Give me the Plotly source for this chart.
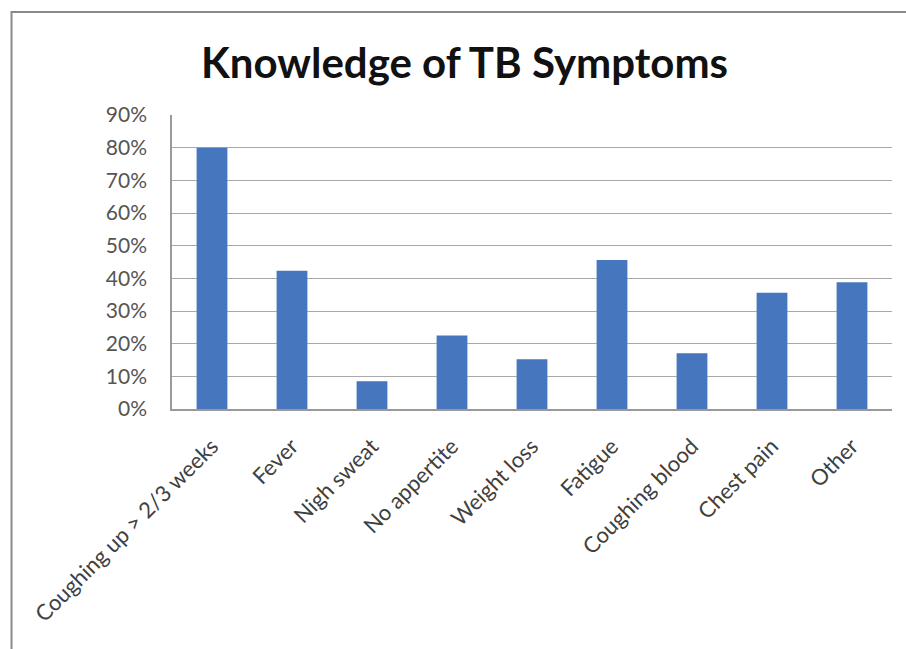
import plotly.graph_objects as go

# Share of respondents naming each symptom
symptoms = [
    "Coughing up > 2/3 weeks",
    "Fever",
    "Nigh sweat",
    "No appertite",
    "Weight loss",
    "Fatigue",
    "Coughing blood",
    "Chest pain",
    "Other",
]
share = [0.80, 0.423, 0.085, 0.225, 0.152, 0.456, 0.171, 0.356, 0.388]
y_ticks = [0, 0.1, 0.2, 0.3, 0.4, 0.5, 0.6, 0.7, 0.8, 0.9]
y_tick_labels = ["0%", "10%", "20%", "30%", "40%", "50%", "60%", "70%", "80%", "90%"]

W, H = 906, 649
ML, MR, MT, MB = 172, 14, 115, 240

fig = go.Figure(
    go.Bar(
        x=symptoms,
        y=share,
        marker=dict(color="#4677BE", line=dict(width=0)),
        hoverinfo="x+y",
    )
)

plot_h = H - MT - MB
plot_w = W - ML - MR


def px_x(p):
    return (p - ML) / plot_w


def px_y(p):
    return (H - MB - p) / plot_h


# chart frame: an open path down the left edge and across the top
fx0, fx1 = px_x(11.5), px_x(W)
fy_top, fy_bot = px_y(12), px_y(H)
frame_path = f"M {fx0},{fy_bot} L {fx0},{fy_top} L {fx1},{fy_top}"

fig.update_layout(
    width=W,
    height=H,
    margin=dict(l=ML, r=MR, t=MT, b=MB),
    paper_bgcolor="white",
    plot_bgcolor="white",
    bargap=0.615,
    showlegend=False,
    font=dict(family="Lato, Liberation Sans, sans-serif", color="#4a4a4a"),
    xaxis=dict(
        tickangle=-45,
        tickfont=dict(size=22, color="#404040"),
        showline=True,
        linecolor="#9a9a9a",
        linewidth=1.5,
        showgrid=False,
        ticks="",
        ticklabelstandoff=14,
    ),
    yaxis=dict(
        range=[0, 0.9],
        tickvals=y_ticks,
        ticktext=y_tick_labels,
        tickfont=dict(size=21, color="#555555"),
        showgrid=True,
        gridcolor="#a9a9a9",
        gridwidth=1.3,
        showline=True,
        linecolor="#9a9a9a",
        linewidth=1.5,
        zeroline=False,
        ticks="",
        ticklabelstandoff=19,
    ),
    annotations=[
        dict(
            text="<b>Knowledge of TB Symptoms</b>",
            xref="paper",
            yref="paper",
            x=px_x(464),
            y=px_y(62),
            xanchor="center",
            yanchor="middle",
            showarrow=False,
            font=dict(size=42, color="#111111", family="Lato, sans-serif"),
        )
    ],
    shapes=[
        dict(
            type="path",
            xref="paper",
            yref="paper",
            path=frame_path,
            line=dict(color="#8a8a8a", width=2),
            fillcolor="rgba(0,0,0,0)",
        )
    ],
)

fig.write_html("out.html")
